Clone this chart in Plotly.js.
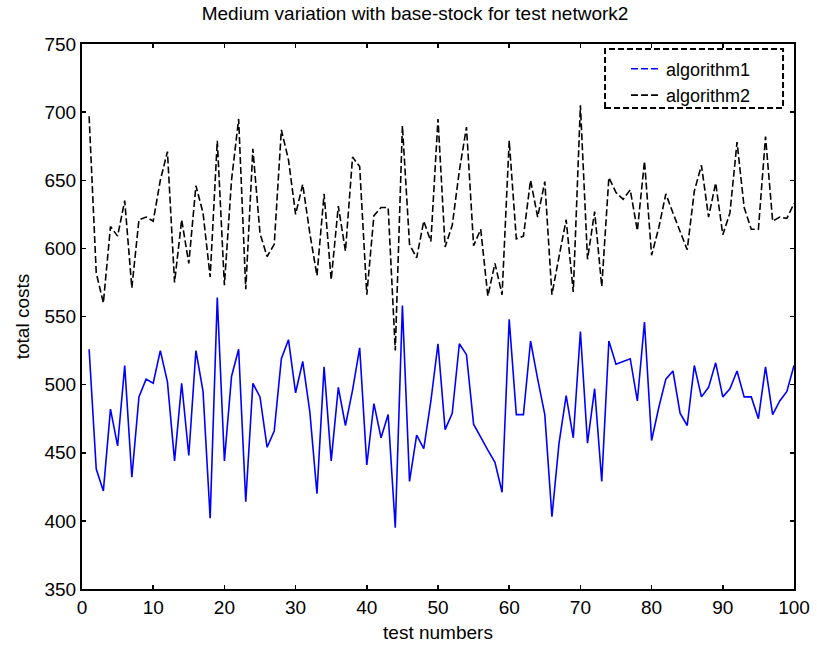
<!DOCTYPE html>
<html>
<head>
<meta charset="utf-8">
<script src="https://cdn.plot.ly/plotly-3.0.1.min.js"></script>
<style>html,body{margin:0;padding:0;background:#fff;}#chart{width:817px;height:655px;}</style>
</head>
<body>
<div id="chart"></div>
<script>
// test numbers 1..100
const testNumbers = Array.from({length: 100}, (_, i) => i + 1);

const algorithm1 = [
  526, 438, 422, 482, 455, 514, 432, 491, 504, 501,
  525, 502, 444, 501, 448, 525, 495, 402, 564, 444,
  506, 526, 414, 501, 491, 454, 466, 519, 533, 494,
  517, 480, 420, 513, 444, 498, 470, 496, 527, 441,
  486, 461, 478, 395, 558, 429, 463, 453, 488, 530,
  467, 479, 530, 522, 471, 461, 452, 443, 421, 548,
  478, 478, 532, 504, 478, 403, 457, 492, 461, 539,
  457, 497, 429, 532, 515, 517, 519, 488, 546, 459,
  483, 504, 510, 479, 470, 514, 491, 498, 516, 491,
  497, 510, 491, 491, 475, 513, 478, 488, 495, 514
];

const algorithm2 = [
  697, 582, 560, 616, 609, 635, 571, 621, 623, 620,
  650, 671, 575, 621, 589, 646, 626, 579, 679, 573,
  650, 695, 570, 673, 611, 594, 603, 687, 665, 625,
  647, 611, 580, 640, 577, 631, 598, 667, 660, 566,
  624, 630, 630, 525, 690, 603, 593, 620, 605, 695,
  601, 617, 657, 689, 602, 614, 565, 589, 566, 679,
  607, 609, 650, 623, 649, 566, 594, 621, 568, 705,
  592, 627, 572, 652, 641, 636, 643, 613, 664, 595,
  615, 640, 626, 612, 599, 642, 661, 623, 648, 610,
  626, 678, 630, 614, 614, 682, 620, 623, 622, 633
];

const seriesNames = ['algorithm1', 'algorithm2'];
const xTicks = [0, 10, 20, 30, 40, 50, 60, 70, 80, 90, 100];
const yTicks = [350, 400, 450, 500, 550, 600, 650, 700, 750];

const FONT = 'Liberation Sans, Arial, Helvetica, sans-serif';

const traces = [
  {x: testNumbers, y: algorithm1, type: 'scatter', mode: 'lines', name: seriesNames[0],
   showlegend: false, line: {color: '#0000ff', width: 1.6}},
  {x: testNumbers, y: algorithm2, type: 'scatter', mode: 'lines', name: seriesNames[1],
   showlegend: false, line: {color: '#000000', width: 1.6, dash: '7px,3px'}},
  // legend entries (legend in the reference shows dashed samples for both)
  {x: [null], y: [null], type: 'scatter', mode: 'lines', name: seriesNames[0],
   line: {color: '#0000ff', width: 1.6, dash: '7px,3px'}},
  {x: [null], y: [null], type: 'scatter', mode: 'lines', name: seriesNames[1],
   line: {color: '#000000', width: 1.6, dash: '7px,3px'}}
];

const axisCommon = {
  showline: true, linecolor: '#000', linewidth: 2, mirror: 'ticks',
  ticks: 'inside', ticklen: 4, tickwidth: 1.5, tickcolor: '#000',
  showgrid: false, zeroline: false,
  tickfont: {family: FONT, size: 19, color: '#000'}
};

const layout = {
  width: 817, height: 655,
  paper_bgcolor: '#fff', plot_bgcolor: '#fff',
  margin: {l: 82, r: 23, t: 44, b: 66},
  font: {family: FONT, color: '#000'},
  title: {text: 'Medium variation with base-stock for test network2',
          font: {family: FONT, size: 19, color: '#000'},
          x: 0.508, xref: 'container', xanchor: 'center',
          y: 0.980, yref: 'container', yanchor: 'middle'},
  xaxis: Object.assign({}, axisCommon, {
    range: [0, 100], tickvals: xTicks, ticktext: xTicks.map(String),
    title: {text: 'test numbers', font: {family: FONT, size: 19, color: '#000'}, standoff: 9}
  }),
  yaxis: Object.assign({}, axisCommon, {
    range: [350, 750], tickvals: yTicks, ticktext: yTicks.map(String),
    title: {text: 'total costs', font: {family: FONT, size: 19, color: '#000'}, standoff: 10}
  }),
  showlegend: true,
  legend: {x: 0.764, y: 0.988, xanchor: 'left', yanchor: 'top',
           bgcolor: 'rgba(255,255,255,0)', borderwidth: 0,
           font: {family: FONT, size: 18, color: '#000'},
           tracegroupgap: 0},
  shapes: [
    {type: 'rect', xref: 'paper', yref: 'paper', x0: 0.7346, x1: 0.9846, y0: 0.8826, y1: 0.9908,
     line: {color: '#000', width: 2, dash: '6px,3px'}, fillcolor: 'rgba(255,255,255,1)', layer: 'below'}
  ]
};

Plotly.newPlot('chart', traces, layout, {displayModeBar: false, staticPlot: true});
</script>
</body>
</html>
